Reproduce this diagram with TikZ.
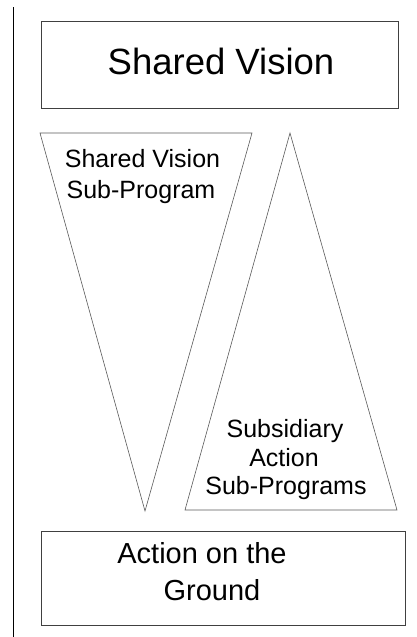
\documentclass[tikz,border=0pt]{standalone}
\usepackage{fontspec}
\setmainfont{Liberation Sans}
\begin{document}
\begin{tikzpicture}[x=1pt,y=-1pt,
  boxline/.style={draw=black!75, line width=1pt},
  triline/.style={draw=black!65, line width=0.6pt},
  lbl/.style={anchor=base, inner sep=0pt, text=black}]
\useasboundingbox (0,0) rectangle (417,637);
% left vertical rule
\draw[black, line width=1pt] (13.5,7) -- (13.5,637);
% top box
\draw[boxline] (41,21) rectangle (398,108);
\node[lbl, font=\fontsize{36.5}{40}\selectfont] (sv) at (221,74) {Shared Vision};
% inverted triangle
\draw[triline] (40,133) -- (252,133) -- (145,511) -- cycle;
\node[lbl, font=\fontsize{25}{28}\selectfont] (svsp1) at (142.5,167) {Shared Vision};
\node[lbl, font=\fontsize{25}{28}\selectfont] (svsp2) at (141,198) {Sub-Program};
% upright triangle
\draw[triline] (290,133) -- (397,510) -- (185,510) -- cycle;
\node[lbl, font=\fontsize{25}{28}\selectfont] (sa1) at (285,437) {Subsidiary};
\node[lbl, font=\fontsize{25}{28}\selectfont] (sa2) at (284,466) {Action};
\node[lbl, font=\fontsize{25}{28}\selectfont] (sa3) at (286,494) {Sub-Programs};
% bottom box
\draw[boxline] (41,531) rectangle (405,625);
\node[lbl, font=\fontsize{29}{32}\selectfont] (ag1) at (202,563) {Action on the};
\node[lbl, font=\fontsize{29}{32}\selectfont] (ag2) at (212,600) {Ground};
\end{tikzpicture}
\end{document}
